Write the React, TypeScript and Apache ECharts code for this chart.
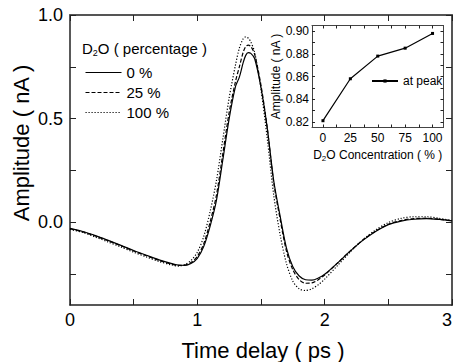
import React, { useEffect, useRef } from "react";
import * as echarts from "echarts";

// Main plot: time delay (ps) vs amplitude (nA)
const timeDelay = [0, 0.1, 0.2, 0.3, 0.4, 0.5, 0.6, 0.7, 0.8, 0.85, 0.9, 0.95, 1.0, 1.05, 1.1, 1.15, 1.2, 1.25, 1.3, 1.33, 1.36, 1.38, 1.4, 1.42, 1.45, 1.5, 1.55, 1.6, 1.65, 1.7, 1.75, 1.8, 1.85, 1.9, 1.95, 2.0, 2.1, 2.2, 2.3, 2.4, 2.5, 2.6, 2.7, 2.8, 2.9, 3.0];
const amp0 = [-0.03, -0.045, -0.065, -0.088, -0.112, -0.137, -0.16, -0.182, -0.2, -0.207, -0.209, -0.2, -0.175, -0.118, -0.02, 0.105, 0.3, 0.5, 0.655, 0.7, 0.77, 0.805, 0.818, 0.815, 0.79, 0.65, 0.45, 0.2, 0.03, -0.125, -0.215, -0.26, -0.278, -0.28, -0.27, -0.252, -0.198, -0.14, -0.088, -0.045, -0.012, 0.005, 0.014, 0.017, 0.013, 0.006];
const amp25 = [-0.032, -0.047, -0.067, -0.09, -0.114, -0.139, -0.162, -0.185, -0.203, -0.209, -0.208, -0.195, -0.165, -0.105, 0.0, 0.13, 0.33, 0.53, 0.68, 0.75, 0.82, 0.848, 0.855, 0.848, 0.81, 0.66, 0.45, 0.19, 0.015, -0.14, -0.23, -0.278, -0.295, -0.293, -0.278, -0.255, -0.198, -0.14, -0.086, -0.043, -0.01, 0.008, 0.017, 0.019, 0.014, 0.007];
const amp100 = [-0.035, -0.05, -0.072, -0.096, -0.12, -0.145, -0.168, -0.19, -0.207, -0.212, -0.205, -0.185, -0.145, -0.07, 0.05, 0.2, 0.4, 0.6, 0.76, 0.84, 0.885, 0.894, 0.888, 0.87, 0.82, 0.64, 0.4, 0.13, -0.06, -0.2, -0.285, -0.322, -0.33, -0.322, -0.302, -0.275, -0.21, -0.145, -0.085, -0.038, -0.002, 0.018, 0.026, 0.026, 0.018, 0.008];
const seriesNames = ["0 %", "25 %", "100 %"];

// Inset: D2O concentration (%) vs amplitude at peak (nA)
const concentration = [0, 25, 50, 75, 100];
const peakAmp = [0.821, 0.858, 0.878, 0.885, 0.898];

// Tick values
const mainXLabels = [0, 1, 2, 3];
const mainXTicks = [0, 0.5, 1, 1.5, 2, 2.5, 3];
const mainYLabels = [0, 0.5, 1.0];
const mainYTicks = [-0.25, 0, 0.25, 0.5, 0.75, 1.0];
const insetXLabels = [0, 25, 50, 75, 100];
const insetXTicks = [0, 12.5, 25, 37.5, 50, 62.5, 75, 87.5, 100];
const insetYLabels = [0.82, 0.84, 0.86, 0.88, 0.9];
const insetYTicks = [0.82, 0.83, 0.84, 0.85, 0.86, 0.87, 0.88, 0.89, 0.9];

const FONT = "'Liberation Sans', Arial, sans-serif";

export default function App() {
  const ref = useRef<HTMLDivElement>(null);
  useEffect(() => {
    if (!ref.current) return;
    const chart = echarts.init(ref.current, null, { renderer: "svg" });
    const zip = (xs: number[], ys: number[]) => xs.map((x, i) => [x, ys[i]]);
    const axisLine = (color: string, width: number) => ({ show: true, onZero: false, lineStyle: { color, width } });
    const tick = (vals: number[], len: number, show = true) => ({
      show,
      inside: true,
      length: len,
      customValues: vals,
      lineStyle: { color: "#222", width: 1 },
    });
    const lab = (vals: number[], size: number, margin: number, fmt: (v: number) => string, show = true) => ({
      show,
      customValues: vals,
      fontSize: size,
      fontFamily: FONT,
      color: "#000",
      margin,
      formatter: (v: number) => fmt(v),
    });
    const lineSeries = (name: string, ys: number[], type: any) => ({
      name,
      type: "line",
      xAxisIndex: 0,
      yAxisIndex: 0,
      data: zip(timeDelay, ys),
      symbol: "none",
      smooth: 0.3,
      lineStyle: { color: "#000", width: 1.2, type },
      itemStyle: { color: "#000" },
    });

    chart.setOption({
      animation: false,
      backgroundColor: "#fff",
      grid: [
        { left: 70, top: 15, width: 382, height: 290, containLabel: false, outerBoundsMode: "none" },
        { left: 312, top: 25.5, width: 131.5, height: 102, containLabel: false, outerBoundsMode: "none" },
      ],
      xAxis: [
        {
          type: "value", gridIndex: 0, min: 0, max: 3, position: "bottom",
          axisLine: axisLine("#222", 1.5), splitLine: { show: false },
          axisTick: tick(mainXTicks, 6),
          axisLabel: { ...lab(mainXLabels, 18, 6, (v) => String(v)), alignMaxLabel: "right" },
        },
        {
          type: "value", gridIndex: 0, min: 0, max: 3, position: "top",
          axisLine: axisLine("#555", 2), splitLine: { show: false },
          axisTick: tick(mainXTicks, 6), axisLabel: { show: false },
        },
        {
          type: "value", gridIndex: 1, min: -10, max: 110, position: "bottom",
          axisLine: axisLine("#444", 1), splitLine: { show: false },
          axisTick: tick(insetXTicks, 3), axisLabel: lab(insetXLabels, 12, 4, (v) => String(v)),
          name: "D{s|2}O Concentration ( % )", nameLocation: "middle", nameGap: 20,
          nameTextStyle: { fontSize: 12, fontFamily: FONT, color: "#000", rich: { s: { fontSize: 8, fontFamily: FONT, padding: [7, 0, 0, 0] } } },
        },
        {
          type: "value", gridIndex: 1, min: -10, max: 110, position: "top",
          axisLine: axisLine("#444", 1), splitLine: { show: false },
          axisTick: tick(insetXTicks, 3), axisLabel: { show: false },
        },
      ],
      yAxis: [
        {
          type: "value", gridIndex: 0, min: -0.4, max: 1.0, position: "left",
          axisLine: axisLine("#222", 1.5), splitLine: { show: false },
          axisTick: tick(mainYTicks, 6), axisLabel: lab(mainYLabels, 18, 7, (v) => v.toFixed(1)),
        },
        {
          type: "value", gridIndex: 0, min: -0.4, max: 1.0, position: "right",
          axisLine: axisLine("#555", 2), splitLine: { show: false },
          axisTick: tick(mainYTicks, 6), axisLabel: { show: false },
        },
        {
          type: "value", gridIndex: 1, min: 0.815, max: 0.905, position: "left",
          axisLine: axisLine("#444", 1), splitLine: { show: false },
          axisTick: tick(insetYTicks, 3), axisLabel: lab(insetYLabels, 12, 3, (v) => v.toFixed(2)),
          name: "Amplitude ( nA )", nameLocation: "middle", nameGap: 29,
          nameTextStyle: { fontSize: 12, fontFamily: FONT, color: "#000" },
        },
        {
          type: "value", gridIndex: 1, min: 0.815, max: 0.905, position: "right",
          axisLine: axisLine("#444", 1), splitLine: { show: false },
          axisTick: tick(insetYTicks, 3), axisLabel: { show: false },
        },
      ],
      legend: [
        {
          data: seriesNames,
          orient: "vertical",
          left: 80,
          top: 60,
          itemWidth: 36,
          itemHeight: 14,
          itemGap: 5,
          selectedMode: false,
          itemStyle: { opacity: 0 },
          lineStyle: { width: 1 },
          textStyle: { fontSize: 15, fontFamily: FONT, color: "#000", lineHeight: 15 },
        },
        {
          data: ["at peak"],
          orient: "horizontal",
          left: 366,
          top: 70,
          itemWidth: 26,
          itemHeight: 4,
          selectedMode: false,
          textStyle: { fontSize: 12, fontFamily: FONT, color: "#000" },
        },
      ],
      graphic: [
        {
          type: "text", x: 82, y: 48,
          style: {
            text: "D{s|2}O ( percentage )",
            font: `15px ${FONT}`, fill: "#000", verticalAlign: "middle", align: "left",
            rich: { s: { fontSize: 9, fontFamily: FONT, fill: "#000", padding: [9, 0, 0, 0] } },
          },
        },
        {
          type: "text", x: 263, y: 350,
          style: { text: "Time delay ( ps )", font: `22px ${FONT}`, fill: "#000", align: "center", verticalAlign: "middle" },
        },
        {
          type: "text", x: 21, y: 143, rotation: Math.PI / 2,
          style: { text: "Amplitude ( nA )", font: `22px ${FONT}`, fill: "#000", align: "center", verticalAlign: "middle" },
        },
      ],
      series: [
        lineSeries(seriesNames[0], amp0, "solid"),
        lineSeries(seriesNames[1], amp25, [4, 2]),
        lineSeries(seriesNames[2], amp100, [1.2, 1.8]),
        {
          name: "at peak",
          type: "line",
          xAxisIndex: 2,
          yAxisIndex: 2,
          data: zip(concentration, peakAmp),
          symbol: "rect",
          symbolSize: 3,
          lineStyle: { color: "#000", width: 1.2 },
          itemStyle: { color: "#000" },
        },
      ],
    });
    return () => chart.dispose();
  }, []);
  return (
    <div
      ref={ref}
      style={{ position: "fixed", left: 0, top: 0, width: 454, height: 362, background: "#fff" }}
    />
  );
}
